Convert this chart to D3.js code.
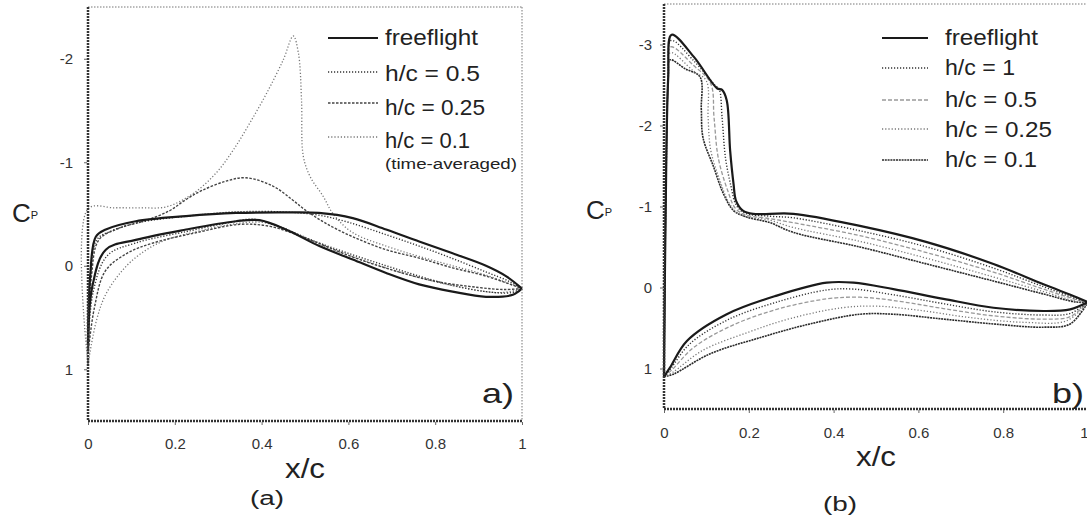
<!DOCTYPE html>
<html>
<head>
<meta charset="utf-8">
<script src="https://cdn.jsdelivr.net/npm/d3@7"></script>
<style>
  body { margin: 0; background: #fff; }
  svg { display: block; font-family: "Liberation Sans", Arial, sans-serif; }
</style>
</head>
<body>
<div id="chart"></div>
<script>
// ---- data: [x/c, Cp] ----
// panel (a), each surface from leading edge to trailing edge
const freeA_upper = [[0,0.75],[0.005,0.1],[0.018,-0.28],[0.041,-0.35],[0.11,-0.43],[0.226,-0.48],[0.341,-0.51],[0.456,-0.515],[0.532,-0.51],[0.61,-0.46],[0.687,-0.35],[0.763,-0.235],[0.84,-0.12],[0.917,0.0],[0.963,0.1],[1,0.22]];
const freeA_lower = [[0,0.75],[0.01,0.2],[0.041,-0.155],[0.11,-0.25],[0.226,-0.35],[0.341,-0.43],[0.395,-0.44],[0.456,-0.35],[0.533,-0.19],[0.61,-0.06],[0.687,0.07],[0.763,0.18],[0.84,0.25],[0.917,0.3],[0.979,0.28],[1,0.22]];
const h05A_upper = [[0,0.8],[0.006,0.1],[0.02,-0.25],[0.05,-0.33],[0.12,-0.42],[0.23,-0.48],[0.34,-0.52],[0.45,-0.52],[0.53,-0.49],[0.6,-0.42],[0.687,-0.3],[0.763,-0.19],[0.84,-0.07],[0.917,0.06],[0.97,0.15],[1,0.22]];
const h05A_lower = [[0,0.8],[0.012,0.25],[0.045,-0.1],[0.11,-0.22],[0.226,-0.33],[0.33,-0.42],[0.38,-0.45],[0.44,-0.38],[0.52,-0.24],[0.6,-0.12],[0.687,0.0],[0.763,0.1],[0.84,0.19],[0.917,0.25],[0.975,0.26],[1,0.22]];
const h025A_upper = [[0,0.85],[0.008,0.1],[0.025,-0.25],[0.07,-0.36],[0.135,-0.44],[0.187,-0.53],[0.226,-0.64],[0.264,-0.73],[0.32,-0.82],[0.364,-0.85],[0.426,-0.77],[0.47,-0.64],[0.5,-0.54],[0.548,-0.41],[0.61,-0.28],[0.687,-0.155],[0.763,-0.074],[0.84,0.02],[0.917,0.1],[1,0.22]];
const h025A_lower = [[0,0.85],[0.015,0.4],[0.04,0.05],[0.09,-0.12],[0.15,-0.22],[0.25,-0.32],[0.35,-0.4],[0.42,-0.38],[0.5,-0.27],[0.6,-0.1],[0.7,0.04],[0.8,0.15],[0.9,0.21],[0.96,0.23],[1,0.22]];
const h01A_upper = [[0,0.95],[0,-0.55],[0.06,-0.56],[0.12,-0.56],[0.181,-0.57],[0.243,-0.7],[0.296,-0.9],[0.335,-1.12],[0.373,-1.38],[0.412,-1.67],[0.45,-1.99],[0.473,-2.22],[0.485,-2.05],[0.492,-1.6],[0.496,-1.06],[0.512,-0.86],[0.542,-0.67],[0.565,-0.5],[0.61,-0.32],[0.687,-0.19],[0.763,-0.09],[0.84,0.0],[0.917,0.09],[1,0.22]];
const h01A_lower = [[0,0.95],[0.02,0.52],[0.043,0.26],[0.089,0.0],[0.135,-0.155],[0.18,-0.25],[0.25,-0.33],[0.33,-0.4],[0.4,-0.42],[0.45,-0.36],[0.55,-0.18],[0.65,-0.03],[0.75,0.1],[0.85,0.2],[0.95,0.26],[1,0.22]];

// panel (b)
const freeB_upper = [[0,1.1],[0.004,-1.0],[0.01,-2.6],[0.018,-3.12],[0.07,-2.85],[0.125,-2.46],[0.137,-2.44],[0.148,-2.31],[0.156,-1.69],[0.164,-1.28],[0.17,-1.07],[0.186,-0.95],[0.21,-0.91],[0.305,-0.91],[0.462,-0.76],[0.62,-0.56],[0.777,-0.29],[0.895,-0.04],[0.973,0.12],[1,0.18]];
const freeB_lower = [[0,1.1],[0.014,0.99],[0.054,0.66],[0.148,0.33],[0.266,0.1],[0.384,-0.06],[0.447,-0.06],[0.541,0.02],[0.659,0.14],[0.777,0.25],[0.895,0.29],[0.958,0.27],[1,0.18]];
const h1B_upper = [[0,1.1],[0.004,-1.0],[0.01,-2.6],[0.017,-3.05],[0.07,-2.8],[0.12,-2.5],[0.13,-2.45],[0.137,-2.1],[0.145,-1.6],[0.158,-1.25],[0.17,-1.02],[0.19,-0.92],[0.25,-0.88],[0.305,-0.86],[0.462,-0.7],[0.62,-0.5],[0.777,-0.24],[0.895,-0.01],[0.973,0.14],[1,0.18]];
const h1B_lower = [[0,1.1],[0.016,1.0],[0.06,0.7],[0.15,0.4],[0.266,0.18],[0.384,0.03],[0.447,0.02],[0.541,0.09],[0.659,0.2],[0.777,0.3],[0.895,0.34],[0.958,0.32],[1,0.18]];
const h05B_upper = [[0,1.1],[0.004,-1.0],[0.01,-2.6],[0.016,-2.97],[0.07,-2.74],[0.11,-2.52],[0.118,-2.1],[0.128,-1.6],[0.15,-1.2],[0.168,-0.98],[0.19,-0.9],[0.25,-0.85],[0.305,-0.8],[0.462,-0.64],[0.62,-0.43],[0.777,-0.19],[0.895,0.02],[0.973,0.15],[1,0.18]];
const h05B_lower = [[0,1.1],[0.018,1.02],[0.07,0.74],[0.16,0.47],[0.266,0.27],[0.384,0.14],[0.462,0.12],[0.541,0.16],[0.659,0.26],[0.777,0.35],[0.895,0.39],[0.958,0.36],[1,0.18]];
const h025B_upper = [[0,1.1],[0.004,-1.0],[0.01,-2.6],[0.015,-2.9],[0.07,-2.67],[0.1,-2.55],[0.104,-2.1],[0.11,-1.7],[0.13,-1.35],[0.155,-1.03],[0.18,-0.9],[0.25,-0.83],[0.305,-0.74],[0.462,-0.57],[0.62,-0.36],[0.777,-0.13],[0.895,0.05],[0.973,0.17],[1,0.18]];
const h025B_lower = [[0,1.1],[0.02,1.05],[0.09,0.78],[0.2,0.55],[0.3,0.38],[0.42,0.25],[0.5,0.23],[0.6,0.28],[0.72,0.37],[0.85,0.43],[0.95,0.41],[1,0.18]];
const h01B_upper = [[0,1.1],[0.004,-1.0],[0.01,-2.6],[0.014,-2.81],[0.05,-2.7],[0.085,-2.6],[0.088,-2.2],[0.092,-1.85],[0.117,-1.49],[0.14,-1.16],[0.164,-0.95],[0.195,-0.87],[0.25,-0.8],[0.305,-0.68],[0.462,-0.5],[0.62,-0.29],[0.777,-0.08],[0.895,0.08],[0.973,0.18],[1,0.18]];
const h01B_lower = [[0,1.1],[0.022,1.07],[0.108,0.82],[0.226,0.62],[0.344,0.45],[0.462,0.33],[0.541,0.33],[0.659,0.39],[0.777,0.45],[0.895,0.49],[0.958,0.45],[1,0.18]];

const xTicks = [0, 0.2, 0.4, 0.6, 0.8, 1];
const xTickLabels = ["0", "0.2", "0.4", "0.6", "0.8", "1"];
const yTicksA = [-2, -1, 0, 1];
const yTicksB = [-3, -2, -1, 0, 1];
const legendA = ["freeflight", "h/c = 0.5", "h/c = 0.25", "h/c = 0.1"];
const legendB = ["freeflight", "h/c = 1", "h/c = 0.5", "h/c = 0.25", "h/c = 0.1"];

// line styles
const styles = {
    free:  { stroke: "#1a1a1a", width: 2.2, dash: null },
    dot:   { stroke: "#333", width: 1.4, dash: "1.2,1.8" },
    dash:  { stroke: "#444", width: 1.4, dash: "2.5,1.5" },
    light: { stroke: "#777", width: 1.3, dash: "1.2,2" },
    lightDash: { stroke: "#999", width: 1.3, dash: "4,2" },
    dense: { stroke: "#2a2a2a", width: 1.6, dash: "2,0.8" }
};

const W = 1087, H = 518;
const svg = d3.select("#chart").append("svg")
    .attr("width", W)
    .attr("height", H);

function fitText(g, x, y, str, size, width, anchor) {
    return g.append("text")
        .attr("x", x).attr("y", y)
        .attr("text-anchor", anchor || "start")
        .attr("textLength", width)
        .attr("lengthAdjust", "spacingAndGlyphs")
        .style("font-size", size + "px")
        .style("fill", "#222")
        .text(str);
}

function drawPanel(p) {
    const x = d3.scaleLinear().domain([0, 1]).range([p.left, p.right]);
    const y = d3.scaleLinear().domain(p.yDomain).range([p.top, p.bottom]);
    const g = svg.append("g");

    const line = d3.line()
        .x(d => x(d[0]))
        .y(d => y(d[1]))
        .curve(d3.curveCatmullRom.alpha(0.5));

    // curves (draw lighter first, freeflight on top)
    p.series.slice().reverse().forEach(s => {
        [s.upper, s.lower].forEach(arr => {
            g.append("path")
                .attr("d", line(arr))
                .attr("fill", "none")
                .attr("stroke", s.style.stroke)
                .attr("stroke-width", s.style.width)
                .attr("stroke-dasharray", s.style.dash)
                .attr("stroke-linejoin", "round");
        });
    });

    // frame: top and right light dotted, left and bottom dark hatched
    g.append("line").attr("x1", p.left).attr("x2", p.right).attr("y1", p.top).attr("y2", p.top)
        .attr("stroke", "#777").attr("stroke-width", 1).attr("stroke-dasharray", "1.5,1.5");
    g.append("line").attr("x1", p.right).attr("x2", p.right).attr("y1", p.top).attr("y2", p.bottom)
        .attr("stroke", "#777").attr("stroke-width", 1).attr("stroke-dasharray", "1.5,1.5");
    g.append("line").attr("x1", p.left).attr("x2", p.left).attr("y1", p.top).attr("y2", p.bottom)
        .attr("stroke", "#333").attr("stroke-width", 2.5).attr("stroke-dasharray", "2,1");
    g.append("line").attr("x1", p.left).attr("x2", p.right).attr("y1", p.bottom).attr("y2", p.bottom)
        .attr("stroke", "#333").attr("stroke-width", 2.5).attr("stroke-dasharray", "2,1");

    // x ticks
    const xAxis = d3.axisBottom(x).tickValues(xTicks).tickSize(3)
        .tickFormat((d, i) => xTickLabels[i]);
    const gx = g.append("g").attr("transform", `translate(0,${p.bottom + 1})`).call(xAxis);
    gx.select(".domain").remove();
    gx.selectAll(".tick line").attr("stroke", "#666");
    gx.selectAll(".tick text")
        .attr("y", p.xLabelDy)
        .attr("text-anchor", d => (p.right > W - 5 && d === 1) ? "end" : "middle")
        .style("font-size", "15px")
        .style("font-family", "'Liberation Sans', Arial, sans-serif")
        .style("fill", "#333");

    // y ticks
    const yAxis = d3.axisLeft(y).tickValues(p.yTicks).tickSize(3)
        .tickFormat(d => (d < 0 ? "-" : "") + Math.abs(d));
    const gy = g.append("g").attr("transform", `translate(${p.left - 1},0)`).call(yAxis);
    gy.select(".domain").remove();
    gy.selectAll(".tick line").attr("stroke", "#666");
    gy.selectAll(".tick text")
        .attr("x", -p.yLabelDx)
        .style("font-size", "15px")
        .style("font-family", "'Liberation Sans', Arial, sans-serif")
        .style("fill", "#333");

    // axis titles
    const cp = g.append("text")
        .attr("x", p.cpX).attr("y", p.cpY)
        .style("font-size", "26px")
        .style("fill", "#222")
        .text("C");
    cp.append("tspan").attr("dy", -3).style("font-size", "11px").text("P");

    fitText(g, (p.left + p.right) / 2, p.xTitleY, "x/c", 28, 40, "middle");
    fitText(g, p.capX, p.capY, p.caption, 20, 34, "middle");
    fitText(g, p.tagX, p.tagY, p.tag, 28, 32, "start");

    // legend
    p.series.forEach((s, i) => {
        const ly = p.legend.lineY[i];
        g.append("line")
            .attr("x1", p.legend.x1).attr("x2", p.legend.x2)
            .attr("y1", ly).attr("y2", ly)
            .attr("stroke", s.style.stroke)
            .attr("stroke-width", s.style.width)
            .attr("stroke-dasharray", s.style.dash);
        fitText(g, p.legend.tx, p.legend.textY[i], p.labels[i], 22, p.legend.widths[i]);
    });
    if (p.legend.note) {
        fitText(g, p.legend.tx, p.legend.note.y, p.legend.note.text, 14, p.legend.note.w);
    }
}

drawPanel({
    left: 88, right: 522, top: 7, bottom: 421,
    yDomain: [-2.5, 1.5], yTicks: yTicksA,
    xLabelDy: 16, yLabelDx: 14,
    cpX: 12, cpY: 222,
    xTitleY: 478,
    caption: "(a)", capX: 267, capY: 505,
    tag: "a)", tagX: 482, tagY: 403,
    labels: legendA,
    series: [
        { upper: freeA_upper, lower: freeA_lower, style: styles.free },
        { upper: h05A_upper, lower: h05A_lower, style: styles.dot },
        { upper: h025A_upper, lower: h025A_lower, style: styles.dash },
        { upper: h01A_upper, lower: h01A_lower, style: styles.light }
    ],
    legend: {
        x1: 328, x2: 378, tx: 385,
        lineY: [38, 72, 103, 137],
        textY: [45, 81, 115, 148],
        widths: [93, 95, 100, 85],
        note: { text: "(time-averaged)", y: 169, w: 132 }
    }
});

drawPanel({
    left: 664, right: 1088, top: 4, bottom: 409,
    yDomain: [-3.5, 1.5], yTicks: yTicksB,
    xLabelDy: 17, yLabelDx: 11,
    cpX: 586, cpY: 219,
    xTitleY: 466,
    caption: "(b)", capX: 840, capY: 511,
    tag: "b)", tagX: 1052, tagY: 403,
    labels: legendB,
    series: [
        { upper: freeB_upper, lower: freeB_lower, style: styles.free },
        { upper: h1B_upper, lower: h1B_lower, style: styles.dot },
        { upper: h05B_upper, lower: h05B_lower, style: styles.lightDash },
        { upper: h025B_upper, lower: h025B_lower, style: styles.light },
        { upper: h01B_upper, lower: h01B_lower, style: styles.dense }
    ],
    legend: {
        x1: 882, x2: 928, tx: 945,
        lineY: [38, 68, 100, 129, 160],
        textY: [45, 75, 107, 137, 167],
        widths: [93, 70, 92, 107, 92]
    }
});
</script>
</body>
</html>
